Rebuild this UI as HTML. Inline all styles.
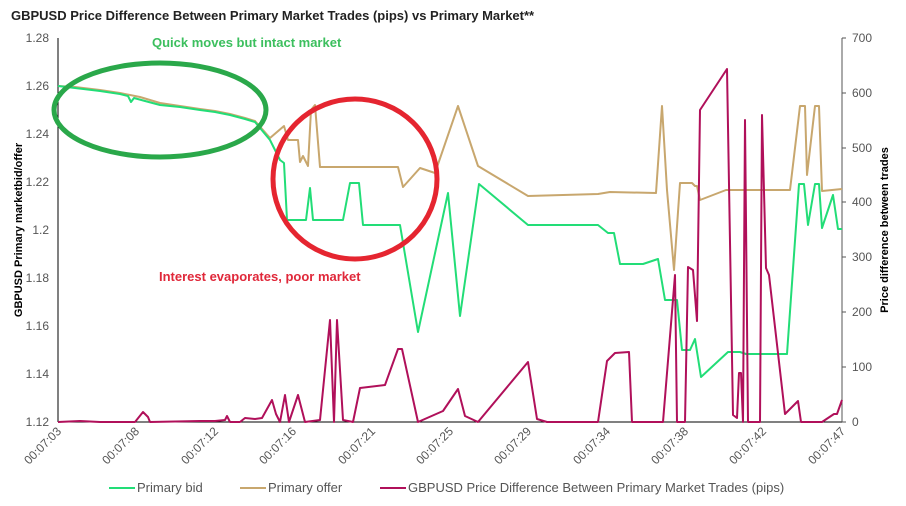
<!DOCTYPE html>
<html><head><meta charset="utf-8"><style>
body{margin:0;background:#fff}
svg{display:block;font-family:"Liberation Sans",Arial,sans-serif}
</style></head><body>
<svg width="906" height="506" viewBox="0 0 906 506">
<text x="11" y="20" font-size="13" font-weight="bold" fill="#222">GBPUSD  Price Difference Between Primary Market Trades (pips)  vs  Primary Market**</text>
<g font-size="12" fill="#555" text-anchor="end">
<text x="49" y="42">1.28</text><text x="49" y="90">1.26</text><text x="49" y="138">1.24</text><text x="49" y="186">1.22</text><text x="49" y="234">1.2</text><text x="49" y="282">1.18</text><text x="49" y="330">1.16</text><text x="49" y="378">1.14</text><text x="49" y="426">1.12</text>
</g>
<g font-size="12" fill="#555">
<text x="852" y="42">700</text><text x="852" y="97">600</text><text x="852" y="152">500</text><text x="852" y="206">400</text><text x="852" y="261">300</text><text x="852" y="316">200</text><text x="852" y="371">100</text><text x="852" y="426">0</text>
</g>
<text transform="translate(22,230) rotate(-90)" font-size="11" font-weight="bold" text-anchor="middle">GBPUSD  Primary marketbid/offer</text>
<text transform="translate(888,230) rotate(-90)" font-size="11" font-weight="bold" text-anchor="middle">Price difference  between trades</text>
<line x1="58" y1="38" x2="58" y2="422" stroke="#000"/>
<line x1="58" y1="422" x2="842" y2="422" stroke="#000"/>
<line x1="842" y1="38" x2="842" y2="422" stroke="#555"/>
<g stroke="#555"><line x1="842" y1="38" x2="846" y2="38"/><line x1="842" y1="93" x2="846" y2="93"/><line x1="842" y1="148" x2="846" y2="148"/><line x1="842" y1="202" x2="846" y2="202"/><line x1="842" y1="257" x2="846" y2="257"/><line x1="842" y1="312" x2="846" y2="312"/><line x1="842" y1="367" x2="846" y2="367"/><line x1="842" y1="422" x2="846" y2="422"/></g>
<g font-size="12" fill="#555" text-anchor="end">
<text transform="translate(62,432) rotate(-45)">00:07:03</text>
<text transform="translate(140,432) rotate(-45)">00:07:08</text>
<text transform="translate(219,432) rotate(-45)">00:07:12</text>
<text transform="translate(297,432) rotate(-45)">00:07:16</text>
<text transform="translate(376,432) rotate(-45)">00:07:21</text>
<text transform="translate(454,432) rotate(-45)">00:07:25</text>
<text transform="translate(532,432) rotate(-45)">00:07:29</text>
<text transform="translate(611,432) rotate(-45)">00:07:34</text>
<text transform="translate(689,432) rotate(-45)">00:07:38</text>
<text transform="translate(767,432) rotate(-45)">00:07:42</text>
<text transform="translate(846,432) rotate(-45)">00:07:47</text>
</g>
<g fill="none" stroke-width="2" stroke-linejoin="round">
<polyline stroke="#c8a76e" points="58,86 75,87 100,90 120,93 140,97 160,103 180,106 200,109 215,111 230,114 245,118 255,121 270,138 284,126 288,140 298,140 300,162 303,156 308,166 311,110 315,105 320,167 398,167 403,187 420,168 435,173 458,106 478,166 528,196 598,194 610,192 656,193 662,106 667,190 674,270 680,183 692,183 695,186 697,186 700,200 726,190 790,190 800,106 805,106 807,175 815,106 819,106 822,191 842,189"/>
<polyline stroke="#22dd77" points="58,86 75,88 100,91 120,94 128,96 131,102 134,98 145,101 160,105 180,107 200,110 215,112 230,115 245,119 255,122 270,140 280,160 284,163 287,220 306,220 310,188 313,220 343,220 350,183 359,183 363,225 400,225 418,332 448,193 460,316 479,184 528,225 598,225 608,233 614,233 620,264 643,264 658,259 665,300 677,300 682,350 690,350 695,339 701,377 728,352 740,352 746,354 787,354 799,184 804,184 808,225 815,184 819,184 822,228 833,195 838,229 842,229"/>
<polyline stroke="#b0105a" points="58,422 80,421 100,422 135,422 143,412 148,417 150,422 200,421 215,421 225,420 227,416 230,422 240,422 245,418 255,419 262,418 272,400 276,414 280,422 285,395 289,422 298,395 305,422 320,420 330,320 334,422 337,320 343,420 353,422 360,388 385,385 398,349 402,349 418,422 443,411 458,389 465,416 478,422 528,362 537,419 547,422 598,422 607,361 615,353 629,352 632,422 663,422 675,275 677,422 685,422 688,267 693,270 697,321 700,110 727,69 733,415 737,418 739,373 741,373 743,422 745,120 748,422 760,422 762,115 766,268 769,275 785,414 798,401 801,422 822,422 834,414 837,414 842,400"/>
</g>
<ellipse cx="160" cy="110" rx="106" ry="47" fill="none" stroke="#2aa84a" stroke-width="5"/>
<ellipse cx="355" cy="179" rx="82" ry="80" fill="none" stroke="#e52530" stroke-width="5"/>
<text x="152" y="47" font-size="13" font-weight="bold" fill="#3cbf5e">Quick moves but intact market</text>
<text x="159" y="281" font-size="13" font-weight="bold" fill="#e0283a">Interest evaporates, poor market</text>
<g font-size="13" fill="#555">
<line x1="109" y1="488" x2="135" y2="488" stroke="#22dd77" stroke-width="2"/><text x="137" y="492">Primary bid</text>
<line x1="240" y1="488" x2="266" y2="488" stroke="#c8a76e" stroke-width="2"/><text x="268" y="492">Primary offer</text>
<line x1="380" y1="488" x2="406" y2="488" stroke="#b0105a" stroke-width="2"/><text x="408" y="492">GBPUSD Price Difference Between Primary Market Trades (pips)</text>
</g>
</svg>
</body></html>
